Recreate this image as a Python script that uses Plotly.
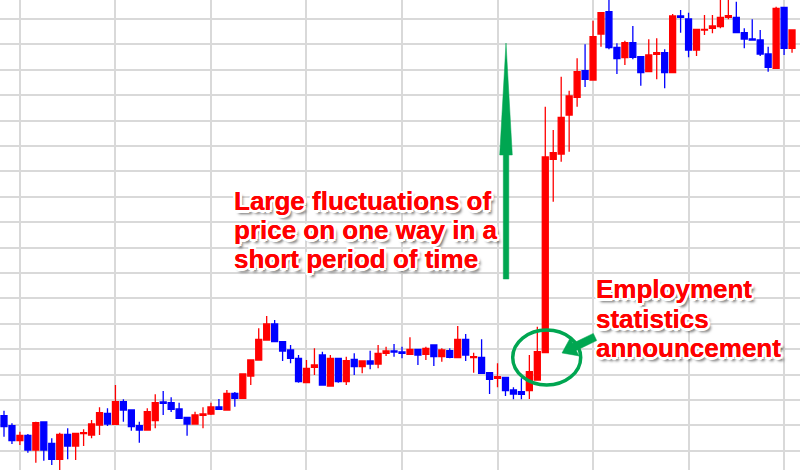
import plotly.graph_objects as go

# ---- data (price in chart units) ----
idx = list(range(100))
opens = [54.3,44.3,29.3,34.7,20,48,26.7,10.7,35.7,24,
         36.3,35,45,56.7,45.7,68.3,60,44.3,40,49.3,
         68,67.3,61,52.7,46,54.7,56,63,60,76.7,
         71.7,94,110,130,146,128.3,120,111.7,87.3,102.7,
         115,84,111.7,88.3,110.7,103.3,109,106,116.7,119,
         118,115.7,120.7,115.7,125,113.3,119.3,112.3,130.7,112.3,
         112.7,97.3,91.7,92.7,80,78.3,79.3,90,117.3,310.7,
         316,355,372.7,399.3,390,436,458.3,422.7,412.3,427.3,
         413.3,398.3,415.7,417.3,397.3,454,451,420,440,441.7,
         443.3,452.7,452.7,437.3,431,430,416,401.7,462.7,421.7]
highs = [59.3,46.7,38.3,36,48.3,48,31.7,37.3,41.7,37.3,
         40.7,50,62.7,61.7,85,70.7,60,48.3,61.7,75.7,
         79,72.7,67.3,52.7,58.3,62.7,67.3,71,80,78,
         96,110,141.7,154,150,128.3,125,115,110,121.7,
         118.3,115,111.7,113.3,116.7,109,119.3,125,123.3,126,
         123.3,132.7,120.7,123.3,125,121.7,121.7,144,136,117.3,
         130.7,97.3,106.7,92.7,82.7,91.7,115,143.3,363.3,340,
         393.3,379.3,411.7,425.7,449.3,457.3,472,426.7,429.3,444,
         413.3,430.7,431.7,420.7,456,460,457.3,440.7,455,455,
         472,472,468.3,441.7,450.7,440,423.3,463.3,462.7,440]
lows = [33.3,26,25,17.3,7.3,9.3,5,-1,10.7,10,
        24,31.7,35,44,45,48.3,39.3,27.3,39.3,41.7,
        55,58,51.7,34.3,46,41.7,55,60.7,59.3,63.3,
        71.7,85,109.3,129.3,128.3,109,106.7,87.3,86.7,95,
        85,83.3,87.3,85,95,96.7,100.7,101.7,114,113.3,
        111.7,115,105,110,104,108.3,111.7,112.3,109,97.3,
        96.7,76,82.7,74,70.7,70.7,71,90,117.3,268.3,
        308.3,318.3,363.3,383,390,423.3,420.7,396,405,410.7,
        384.3,398.3,390.7,381.7,397.3,437.3,412.7,414,435,436.7,
        441.7,450.7,437.3,421.7,429.3,414,398.3,401.7,415,417.3]
closes = [43.3,29.3,34.7,20,47.3,20,10.7,35.7,24,36.7,
          37.3,46,57.3,46,68.3,60,43.3,40,58.3,67.3,
          66.7,60.7,51.7,46,55,56,63,60.7,76.7,71.7,
          96,110,130.7,146,128.3,119,111.7,88.3,101.7,105,
          85,111.7,88.3,109.3,103.3,109,106,116.7,119,118,
          116.7,120.7,115,121.7,113.3,120,112.7,130.7,115,113.3,
          96.7,90.7,93.3,79.3,76,75.7,98.3,118.3,313,317.3,
          352.7,374,398.3,390.7,433.3,457.3,422.3,411.3,427.3,412.7,
          397.3,415,417.3,397.3,454,452.7,420,440.7,440.7,444,
          452.7,454.3,437.3,431,430,416,402.7,461.7,421.7,440]

text_block1 = ["Large fluctuations of", "price on one way in a", "short period of time"]
text_block2 = ["Employment", "statistics", "announcement"]

W, H = 800, 470
RED = "#ff0000"
BLUE = "#0000ff"
GREEN = "#00a651"

def px(x):
    return x / W

def py(y):
    return 1 - y / H

fig = go.Figure(go.Candlestick(
    x=idx, open=opens, high=highs, low=lows, close=closes,
    increasing=dict(line=dict(color=RED, width=1.3), fillcolor=RED),
    decreasing=dict(line=dict(color=BLUE, width=1.3), fillcolor=BLUE),
    whiskerwidth=0, hoverinfo="skip", showlegend=False,
))

def poly(points):
    d = "M " + " L ".join(f"{px(a):.5f},{py(b):.5f}" for a, b in points) + " Z"
    return dict(type="path", xref="paper", yref="paper", path=d,
                fillcolor=GREEN, line=dict(color=GREEN, width=0.5), layer="above")

shapes = []
# vertical green arrow
shapes.append(poly([(506, 43), (512.3, 155), (508.8, 155), (508.8, 279),
                    (503.3, 279), (503.3, 155), (499.7, 155)]))
# ellipse
shapes.append(dict(type="circle", xref="paper", yref="paper",
                   x0=px(512.7), x1=px(580.7), y0=py(385), y1=py(330),
                   line=dict(color=GREEN, width=3.5), layer="above"))
# pointing arrow
shapes.append(poly([(593.3, 333.4), (572.9, 343.3), (570.2, 337.9), (562, 353),
                    (579, 355.9), (576.3, 350.5), (596.7, 340.6)]))

shadow = ("0 0 0.6px #ff0000, "
          "-2px -2px 0 #fff, 2px -2px 0 #fff, -2px 2px 0 #fff, 2px 2px 0 #fff, "
          "0 2.5px 0 #fff, 2.5px 0 0 #fff, 0 -2.5px 0 #fff, -2.5px 0 0 #fff, "
          "3px 4px 3px rgba(0,0,0,0.6)")
font = dict(family="Liberation Sans, Arial, sans-serif", size=26, color=RED,
            weight="bold", shadow=shadow)

annotations = []
for k, t in enumerate(text_block1):
    annotations.append(dict(text=t, xref="paper", yref="paper", x=px(232), y=py(201 + 29 * k),
                            xanchor="left", yanchor="middle", showarrow=False, font=font))
for k, t in enumerate(text_block2):
    annotations.append(dict(text=t, xref="paper", yref="paper", x=px(594), y=py(289 + 29.5 * k),
                            xanchor="left", yanchor="middle", showarrow=False, font=font))

fig.update_layout(
    width=W, height=H, margin=dict(l=0, r=0, t=0, b=0),
    paper_bgcolor="white", plot_bgcolor="white",
    boxgap=0.25, boxgroupgap=0,
    xaxis=dict(range=[-0.5025, 100], showticklabels=False, zeroline=False, showline=False,
               showgrid=True, gridcolor="#d9d9d9", gridwidth=2, tick0=2, dtick=12,
               rangeslider=dict(visible=False), fixedrange=True),
    yaxis=dict(range=[0, 470], showticklabels=False, zeroline=False, showline=False,
               showgrid=True, gridcolor="#d9d9d9", gridwidth=2, tick0=19.2, dtick=25.4,
               fixedrange=True),
    shapes=shapes, annotations=annotations, showlegend=False,
)

fig.write_html("out.html", config={"displayModeBar": False},
               post_script="document.body.style.margin='0';document.body.style.overflow='hidden';")
